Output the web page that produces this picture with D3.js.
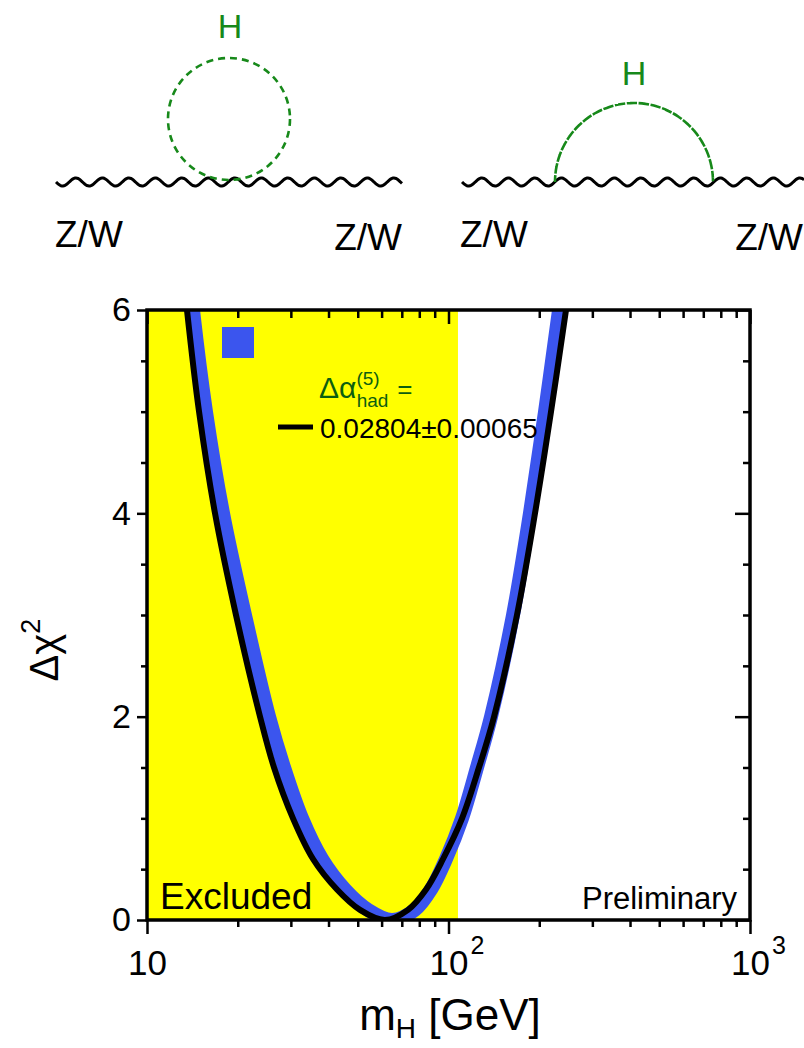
<!DOCTYPE html>
<html><head><meta charset="utf-8">
<script src="https://cdn.jsdelivr.net/npm/d3@7"></script>
<style>
html,body{margin:0;padding:0;background:#fff;}
svg{display:block;font-family:"Liberation Sans",Arial,Helvetica,sans-serif;}
</style></head>
<body>
<svg id="c" width="804" height="1048"></svg>
<script>
// ---------- data ----------
// central fit curve (black): Higgs mass [GeV] and delta chi^2, traced along the parabola
const blackMass = [13.06, 13.57, 14.88, 16.81, 19.73, 23.71, 26.38, 30.49, 35.53, 42.68, 50.87, 61.56,
                   73.38, 84.22, 95.9, 110.9, 126.2, 141.6, 168.7, 193.6, 218.8, 245.3, 258.8];
const blackChi2 = [6.5, 6.0, 5.0, 4.0, 3.0, 2.0, 1.5, 1.0, 0.6, 0.3, 0.1, 0.0,
                   0.1, 0.3, 0.6, 1.0, 1.5, 2.0, 3.0, 4.0, 5.0, 6.0, 6.5];
// theory-uncertainty band (blue), centre line of the band
const bandMass = [13.68, 14.21, 15.69, 17.87, 21.13, 25.39, 28.48, 32.67, 38.06, 45.36, 54.08, 64.95,
                  77.42, 87.5, 98.1, 110.9, 124.3, 138.4, 163.7, 186.3, 209.0, 232.6, 245.3];
const bandChi2 = [6.5, 6.0, 5.0, 4.0, 3.0, 2.0, 1.5, 1.0, 0.6, 0.3, 0.1, 0.0,
                  0.1, 0.3, 0.6, 1.0, 1.5, 2.0, 3.0, 4.0, 5.0, 6.0, 6.5];
// excluded region (direct search)
const excludedRange = [10, 107.5];
// axis ticks
const yMajorTicks = [0, 2, 4, 6];
const yMinorTicks = [0.5, 1, 1.5, 2.5, 3, 3.5, 4.5, 5, 5.5];
const xMajorTicks = [10, 100, 1000];
const xMinorTicks = [20, 30, 40, 50, 60, 70, 80, 90, 200, 300, 400, 500, 600, 700, 800, 900];
const xTickBase = ["10", "10", "10"];
const xTickExp = ["", "2", "3"];
// texts
const legendValue = "0.02804\u00b10.00065";

// ---------- layout ----------
const svg = d3.select("#c");
const L = 147, R = 750, T = 310, B = 920;
const x = d3.scaleLog().domain([10, 1000]).range([L, R]);
const y = d3.scaleLinear().domain([0, 6]).range([B, T]);

const defs = svg.append("defs");
defs.append("clipPath").attr("id", "plotclip")
  .append("rect").attr("x", L).attr("y", T).attr("width", R - L).attr("height", B - T);

// ---------- Feynman diagrams ----------
const green = "#17891a";
function wavy(x0, x1, y0, amp, period) {
  const pts = [];
  for (let xx = x0; xx <= x1; xx += 1) pts.push([xx, y0 + amp * Math.sin(2 * Math.PI * (xx - x0) / period)]);
  return d3.line()(pts);
}
const diag = svg.append("g");
diag.append("path").attr("d", wavy(56, 402, 182, 4, 26.5))
  .attr("fill", "none").attr("stroke", "#000").attr("stroke-width", 3);
diag.append("circle").attr("cx", 229).attr("cy", 119).attr("r", 61)
  .attr("fill", "none").attr("stroke", green).attr("stroke-width", 2.6).attr("stroke-dasharray", "7,5");
diag.append("text").attr("x", 230).attr("y", 38).attr("text-anchor", "middle")
  .attr("font-size", 34).attr("fill", green).text("H");
diag.append("text").attr("x", 55).attr("y", 247).attr("font-size", 37).text("Z/W");
diag.append("text").attr("x", 402).attr("y", 250).attr("text-anchor", "end").attr("font-size", 37).text("Z/W");

diag.append("path").attr("d", wavy(462, 804, 182, 4, 26.5))
  .attr("fill", "none").attr("stroke", "#000").attr("stroke-width", 3);
diag.append("path")
  .attr("d", d3.arc()({innerRadius: 79, outerRadius: 79, startAngle: -Math.PI / 2, endAngle: Math.PI / 2}))
  .attr("transform", "translate(634,182)")
  .attr("fill", "none").attr("stroke", green).attr("stroke-width", 2.6).attr("stroke-dasharray", "7,5");
diag.append("text").attr("x", 634).attr("y", 85).attr("text-anchor", "middle")
  .attr("font-size", 34).attr("fill", green).text("H");
diag.append("text").attr("x", 460).attr("y", 247).attr("font-size", 37).text("Z/W");
diag.append("text").attr("x", 803).attr("y", 250).attr("text-anchor", "end").attr("font-size", 37).text("Z/W");

// ---------- plot ----------
const plot = svg.append("g").attr("clip-path", "url(#plotclip)");
plot.append("rect")
  .attr("x", x(excludedRange[0])).attr("y", T)
  .attr("width", x(excludedRange[1]) - x(excludedRange[0])).attr("height", B - T)
  .attr("fill", "#ffff00");

const line = d3.line().x(d => x(d[0])).y(d => y(d[1])).curve(d3.curveCatmullRom.alpha(0.5));
const bandPts = bandMass.map((m, i) => [m, bandChi2[i]]);
const blackPts = blackMass.map((m, i) => [m, blackChi2[i]]);
plot.append("path").attr("d", line(bandPts))
  .attr("fill", "none").attr("stroke", "#3b55ee").attr("stroke-width", 14).attr("stroke-linejoin", "round");
plot.append("path").attr("d", line(blackPts))
  .attr("fill", "none").attr("stroke", "#000").attr("stroke-width", 6).attr("stroke-linejoin", "round");

// legend
svg.append("rect").attr("x", 222).attr("y", 327).attr("width", 32).attr("height", 31).attr("fill", "#3b55ee");
const lg = svg.append("text").attr("x", 319).attr("y", 398).attr("fill", "#0c5e10").attr("font-size", 30);
lg.append("tspan").text("\u0394\u03b1");
lg.append("tspan").attr("font-size", 19).attr("dy", -13).text("(5)");
lg.append("tspan").attr("font-size", 19).attr("dx", -23).attr("dy", 22).text("had");
lg.append("tspan").attr("font-size", 26).attr("dy", -9).attr("dx", 9).text("=");
svg.append("line").attr("x1", 278).attr("x2", 313).attr("y1", 427).attr("y2", 427)
  .attr("stroke", "#000").attr("stroke-width", 5);
svg.append("text").attr("x", 320).attr("y", 438).attr("font-size", 28).text(legendValue);

svg.append("text").attr("x", 160).attr("y", 909).attr("font-size", 37).text("Excluded");
svg.append("text").attr("x", 737).attr("y", 909).attr("text-anchor", "end").attr("font-size", 31).text("Preliminary");

// ---------- axes ----------
function styleAxis(g) {
  g.select(".domain").remove();
  g.selectAll(".tick line").attr("stroke", "#000").attr("stroke-width", 2.5);
}
// left
svg.append("g").attr("transform", `translate(${L},0)`)
  .call(d3.axisLeft(y).tickValues(yMajorTicks).tickSize(10).tickPadding(6).tickFormat(d3.format("d")))
  .call(styleAxis)
  .call(g => g.selectAll(".tick text").attr("font-size", 34).attr("font-family", "Liberation Sans, Arial, sans-serif").attr("fill", "#000"));
svg.append("g").attr("transform", `translate(${L},0)`)
  .call(d3.axisLeft(y).tickValues(yMinorTicks).tickSize(6).tickFormat(""))
  .call(styleAxis);
// right
svg.append("g").attr("transform", `translate(${R},0)`)
  .call(d3.axisRight(y).tickValues(yMajorTicks).tickSize(-15).tickFormat(""))
  .call(styleAxis);
svg.append("g").attr("transform", `translate(${R},0)`)
  .call(d3.axisRight(y).tickValues(yMinorTicks).tickSize(-7).tickFormat(""))
  .call(styleAxis);
// top
svg.append("g").attr("transform", `translate(0,${T})`)
  .call(d3.axisTop(x).tickValues(xMajorTicks).tickSize(-14).tickFormat(""))
  .call(styleAxis);
svg.append("g").attr("transform", `translate(0,${T})`)
  .call(d3.axisTop(x).tickValues(xMinorTicks).tickSize(-8).tickFormat(""))
  .call(styleAxis);
// bottom
const xb = svg.append("g").attr("transform", `translate(0,${B})`)
  .call(d3.axisBottom(x).tickValues(xMajorTicks).tickSize(14).tickFormat(""))
  .call(styleAxis);
svg.append("g").attr("transform", `translate(0,${B})`)
  .call(d3.axisBottom(x).tickValues(xMinorTicks).tickSize(7).tickFormat(""))
  .call(styleAxis);
// bottom labels with exponents
xb.selectAll(".tick").each(function(d, i) {
  const t = d3.select(this).append("text").attr("y", 55).attr("fill", "#000")
    .attr("font-size", 35).attr("text-anchor", "middle").attr("font-family", "Liberation Sans, Arial, sans-serif");
  t.append("tspan").text(xTickBase[i]);
  if (xTickExp[i]) {
    t.append("tspan").attr("font-size", 25).attr("dy", -21).attr("dx", 2).text(xTickExp[i]);
    t.attr("x", 8);
  }
});

// frame
svg.append("rect").attr("x", L).attr("y", T).attr("width", R - L).attr("height", B - T)
  .attr("fill", "none").attr("stroke", "#000").attr("stroke-width", 3.5);

// axis titles
const xt = svg.append("text").attr("x", 450).attr("y", 1030).attr("text-anchor", "middle").attr("font-size", 44);
xt.append("tspan").text("m");
xt.append("tspan").attr("font-size", 28).attr("dy", 8).text("H");
xt.append("tspan").attr("dy", -8).text(" [GeV]");

const yt = svg.append("text").attr("transform", "translate(58,650) rotate(-90)")
  .attr("text-anchor", "middle").attr("font-size", 40);
yt.append("tspan").text("\u0394\u03c7");
yt.append("tspan").attr("font-size", 27).attr("dy", -18).text("2");
</script>
</body></html>
